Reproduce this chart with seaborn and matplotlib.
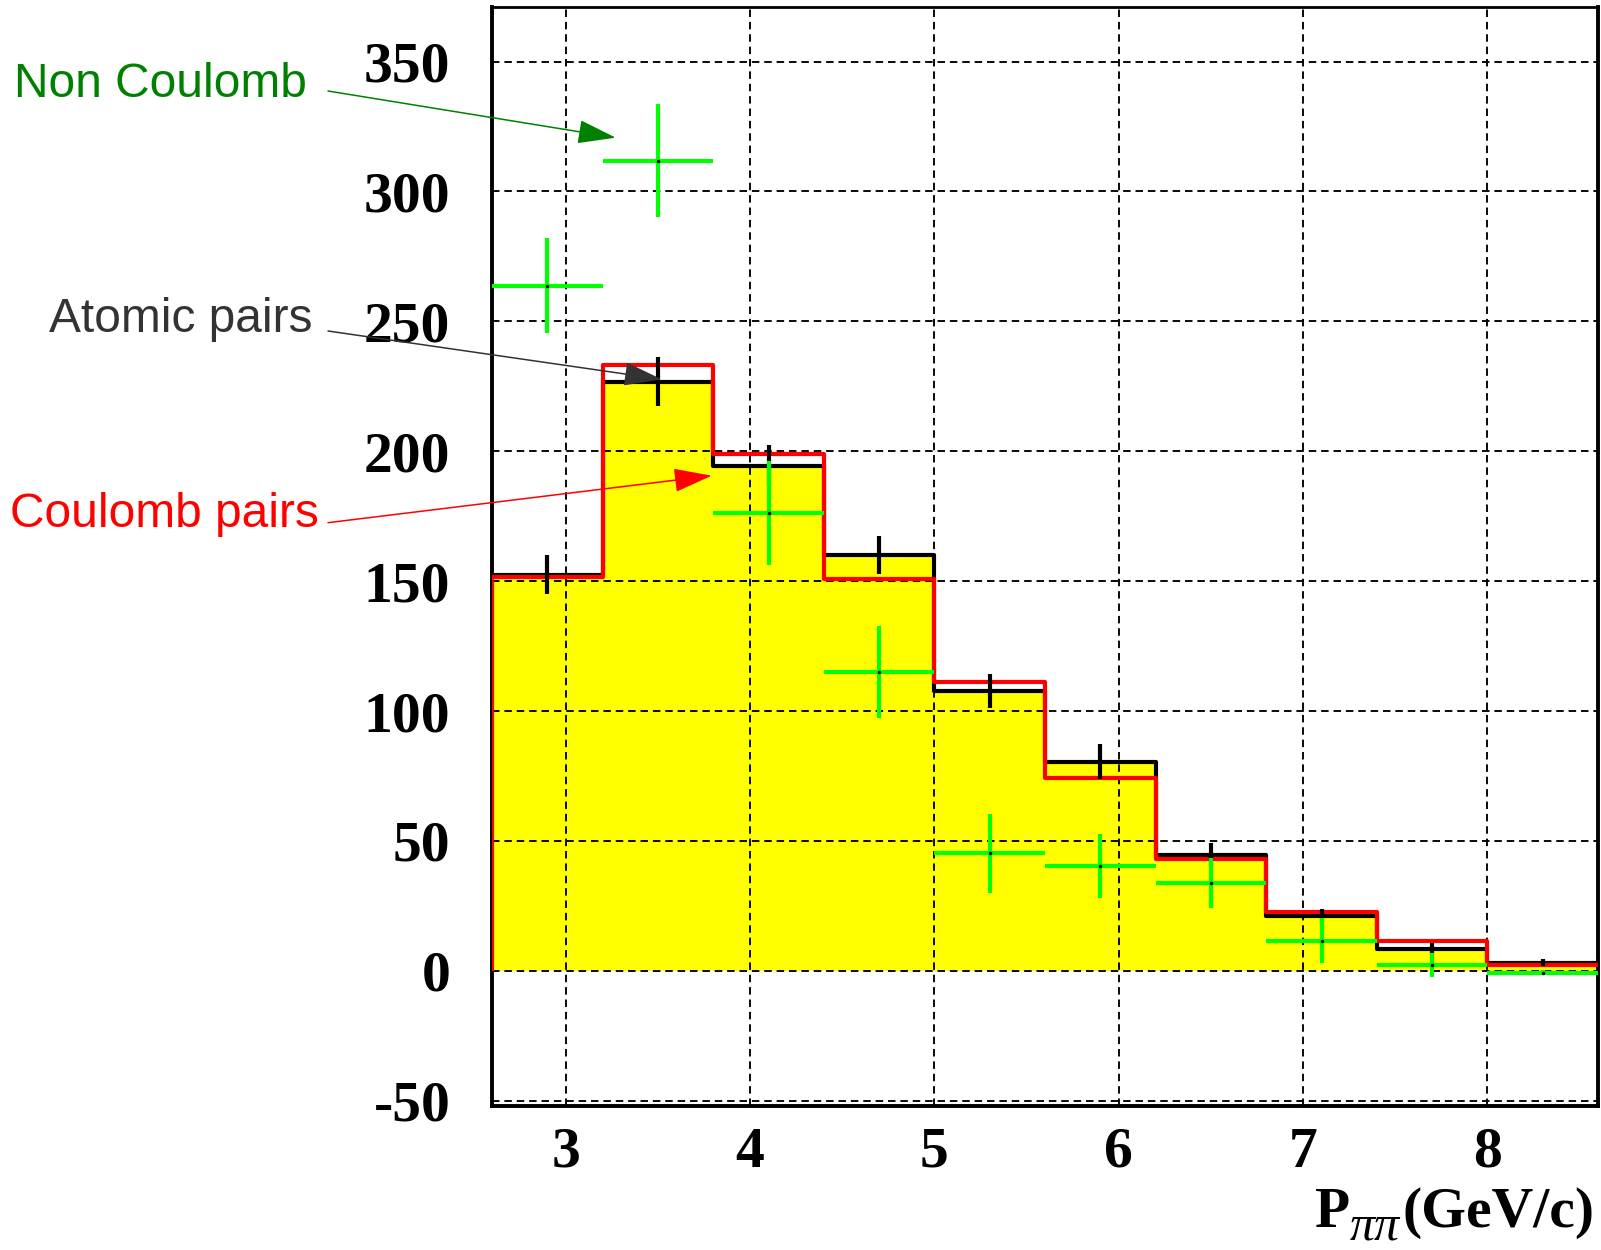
import numpy as np
import pandas as pd
import matplotlib
matplotlib.use("Agg")
import matplotlib.pyplot as plt
import seaborn as sns
from matplotlib.ticker import MultipleLocator

# ---- binned P_pipi spectra (GeV/c) ----
bin_edges = [2.6, 3.2, 3.8, 4.4, 5.0, 5.6, 6.2, 6.8, 7.4, 8.0, 8.6]
bin_centers = [2.9, 3.5, 4.1, 4.7, 5.3, 5.9, 6.5, 7.1, 7.7, 8.3]

atomic_pairs = [152.5, 226.8, 194.5, 160.2, 107.8, 80.5, 44.7, 21.3, 8.6, 3.2]
atomic_err = [7.5, 9.3, 8.0, 7.3, 6.5, 6.8, 4.5, 2.7, 2.3, 1.5]

coulomb_pairs = [151.5, 233.3, 199.0, 150.8, 111.3, 74.2, 42.9, 22.8, 11.7, 2.2]

non_coulomb = [263.8, 311.8, 176.3, 115.2, 45.2, 40.4, 33.7, 11.6, 2.3, -0.7]
non_coulomb_err = [18.1, 21.8, 20.0, 17.7, 15.2, 12.3, 9.6, 8.7, 4.5, 1.0]

y_ticks = [-50, 0, 50, 100, 150, 200, 250, 300, 350]
x_ticks = [3, 4, 5, 6, 7, 8]

df = pd.DataFrame({
    "p": bin_centers,
    "atomic": atomic_pairs,
    "coulomb": coulomb_pairs,
})
half_width = np.diff(bin_edges) / 2.0

sns.set_theme(style="white")
plt.rcParams["axes.unicode_minus"] = False
plt.rcParams["font.family"] = ["Liberation Serif", "DejaVu Serif"]

W, H = 1601, 1250
LW = 3.0
fig = plt.figure(figsize=(W / 100, H / 100), dpi=100)
fig.patch.set_facecolor("white")
ax = fig.add_axes([492 / W, 1 - 1106 / H, (1598 - 492) / W, (1106 - 7) / H])
ax.set_facecolor("white")

# filled histogram with black outline
sns.histplot(data=df, x="p", weights="atomic", bins=bin_edges, element="step",
             fill=True, color="#ffff00", alpha=1.0, linewidth=0, ax=ax, zorder=1)
sns.histplot(data=df, x="p", weights="atomic", bins=bin_edges, element="step",
             fill=False, color="black", linewidth=LW, ax=ax, zorder=3)
# red outline histogram
sns.histplot(data=df, x="p", weights="coulomb", bins=bin_edges, element="step",
             fill=False, color="#ff0000", linewidth=LW, ax=ax, zorder=4)
ax.vlines(bin_edges[0], 0, coulomb_pairs[0], color="#ff0000", lw=LW, zorder=4)

# error bars
ax.errorbar(bin_centers, atomic_pairs, yerr=atomic_err, fmt="none",
            ecolor="black", elinewidth=LW, capsize=0, zorder=5)
ax.errorbar(bin_centers, non_coulomb, xerr=half_width, yerr=non_coulomb_err,
            fmt="none", ecolor="#00ff00", elinewidth=LW, capsize=0, zorder=6)
ax.plot(bin_centers, non_coulomb, ls="none", marker="o", ms=1.5,
        color="black", zorder=7)

ax.set_xlim(bin_edges[0], bin_edges[-1])
ax.set_ylim(-52, 371)
ax.set_xlabel("")
ax.set_ylabel("")

ax.set_xticks(x_ticks)
ax.set_yticks(y_ticks)
ax.set_xticklabels([str(t) for t in x_ticks])
ax.set_yticklabels([str(t) for t in y_ticks])
ax.xaxis.set_minor_locator(MultipleLocator(0.25))
ax.yaxis.set_minor_locator(MultipleLocator(10))

ax.set_axisbelow(False)
ax.grid(True, which="major", color="black", linestyle=(0, (4, 2.6)), linewidth=1.35)

ax.tick_params(axis="both", which="both", direction="in", top=False, right=False,
               color="black", width=1.8)
ax.tick_params(axis="y", which="major", length=23, pad=30)
ax.tick_params(axis="y", which="minor", length=13)
ax.tick_params(axis="x", which="major", length=21, pad=15)
ax.tick_params(axis="x", which="minor", length=10)
for lab in ax.get_xticklabels() + ax.get_yticklabels():
    lab.set_fontfamily("Liberation Serif")
    lab.set_fontweight("bold")
    lab.set_fontsize(41.5)
    lab.set_color("black")

for side, lw in (("left", 2.8), ("bottom", 2.8), ("top", 2.0), ("right", 2.8)):
    ax.spines[side].set_visible(True)
    ax.spines[side].set_color("black")
    ax.spines[side].set_linewidth(lw)


def fpos(x, y_top):
    return x / W, 1 - y_top / H


# axis title P_pipi (GeV/c)
fig.text(*fpos(1594, 1227), "(GeV/c)", ha="right", va="baseline",
         fontsize=41.5, fontweight="bold", family="Liberation Serif", color="black")
fig.text(*fpos(1315, 1227), "P", ha="left", va="baseline",
         fontsize=41.5, fontweight="bold", family="Liberation Serif", color="black")
fig.text(*fpos(1350, 1240), "\u03c0\u03c0", ha="left", va="baseline",
         fontsize=36, style="italic", family="Liberation Serif", color="black")

# labels with arrows
labels = [
    ("Non Coulomb", "#008000", (14, 96.7), (328, 91), (3.271, 320.7)),
    ("Atomic pairs", "#333333", (49, 331.7), (328, 331), (3.521, 227.7)),
    ("Coulomb pairs", "#ff0000", (10, 526.7), (328, 522.7), (3.792, 190.6)),
]
for text, col, tpos, start, tip in labels:
    fig.text(*fpos(*tpos), text, ha="left", va="baseline", fontsize=34.5,
             family="Liberation Sans", color=col)
    ax.annotate("", xy=tip, xycoords="data", xytext=fpos(*start),
                textcoords="figure fraction", annotation_clip=False,
                arrowprops=dict(arrowstyle="-|>,head_length=24,head_width=7.5",
                                mutation_scale=1, color=col, lw=1.1,
                                shrinkA=0, shrinkB=0), zorder=8)

fig.savefig("out.png", dpi=100, facecolor="white")
